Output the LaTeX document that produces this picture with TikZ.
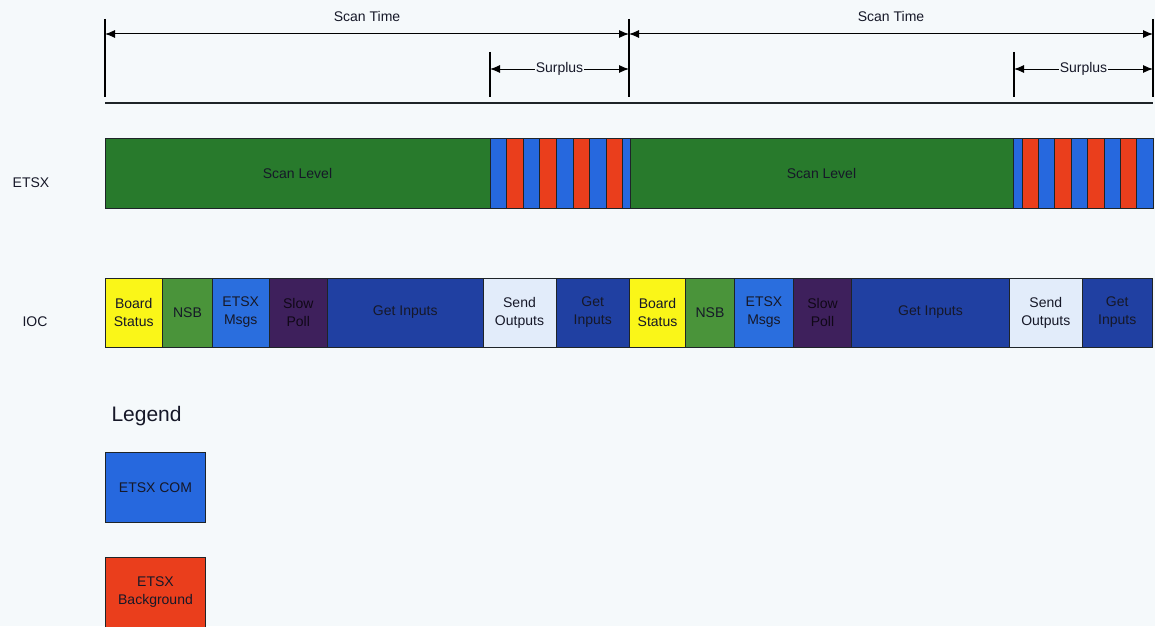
\documentclass[tikz,border=0pt]{standalone}
\usepackage{fontspec}
\setmainfont{Liberation Sans}
\usepackage{xcolor}
\usepackage{tikz}
\usetikzlibrary{positioning,arrows.meta,calc}
\definecolor{pagebg}{RGB}{245,249,251}
\definecolor{scangreen}{RGB}{40,122,44}
\definecolor{comblue}{RGB}{38,104,222}
\definecolor{bgred}{RGB}{234,62,28}
\definecolor{bsyellow}{RGB}{250,246,24}
\definecolor{nsbgreen}{RGB}{74,148,58}
\definecolor{msgblue}{RGB}{42,110,222}
\definecolor{pollpurple}{RGB}{62,32,92}
\definecolor{inblue}{RGB}{32,64,162}
\definecolor{outlight}{RGB}{226,236,250}
\definecolor{edgegray}{RGB}{30,36,40}
\definecolor{labeltext}{RGB}{22,24,40}
\tikzset{
    seg/.style={draw=edgegray, line width=1pt, inner sep=0pt, outer sep=0pt, align=center, minimum height=69, text=labeltext, font=\fontsize{14}{18}\selectfont},
    stripe/.style={draw=edgegray, line width=1pt},
    tick/.style={draw=black, line width=1.2pt},
    dimline/.style={{Latex[length=10pt,width=8pt]}-{Latex[length=10pt,width=8pt]}, line width=1pt, draw=black},
    dimlabel/.style={font=\fontsize{14}{16}\selectfont, text=labeltext, inner sep=1pt},
    rowlabel/.style={font=\fontsize{14}{16}\selectfont, text=labeltext},
    legendbox/.style={draw=edgegray, line width=1pt, align=center, minimum width=100, minimum height=70, inner sep=0pt, text=labeltext, font=\fontsize{14}{18}\selectfont}
}
\begin{document}
\begin{tikzpicture}[x=1pt,y=-1pt]
\fill[pagebg] (0,0) rectangle (1155,626);
\useasboundingbox (0,0) rectangle (1155,626);
% time scale
\coordinate (k0a) at (105,19);  \coordinate (k0b) at (105,97);
\coordinate (k1a) at (629,19);  \coordinate (k1b) at (629,97);
\coordinate (k2a) at (1153,19); \coordinate (k2b) at (1153,97);
\coordinate (s1a) at (490,52);  \coordinate (s1b) at (490,97);
\coordinate (s2a) at (1014,52); \coordinate (s2b) at (1014,97);
\draw[tick] (k0a) -- (k0b);
\draw[tick] (k1a) -- (k1b);
\draw[tick] (k2a) -- (k2b);
\draw[tick] (s1a) -- (s1b);
\draw[tick] (s2a) -- (s2b);
\coordinate (st1a) at (105,34);  \coordinate (st1b) at (629,34);
\coordinate (st2a) at (629,34);  \coordinate (st2b) at (1153,34);
\draw[dimline] (st1a) -- (st1b);
\draw[dimline] (st2a) -- (st2b);
\node[dimlabel] (scantime1) at (367,16) {Scan Time};
\node[dimlabel] (scantime2) at (891,16) {Scan Time};
\coordinate (sp1a) at (490,69);  \coordinate (sp1b) at (629,69);
\coordinate (sp2a) at (1014,69); \coordinate (sp2b) at (1153,69);
\draw[dimline] (sp1a) -- node[dimlabel, fill=pagebg] (surplus1) {Surplus} (sp1b);
\draw[dimline] (sp2a) -- node[dimlabel, fill=pagebg] (surplus2) {Surplus} (sp2b);
\coordinate (rulea) at (105,103); \coordinate (ruleb) at (1153,103);
\draw[line width=1.8pt, draw=edgegray] (rulea) -- (ruleb);
% ETSX row
\node[rowlabel] (etsx) at (31,183) {ETSX};
\node[seg, fill=scangreen, minimum width=385, minimum height=70, anchor=west] (scan1) at (105,173) {Scan Level};
\node[seg, fill=scangreen, minimum width=383, minimum height=70, anchor=west] (scan2) at (630,173) {Scan Level};
\foreach \i in {0,1,2,3} {
    \draw[stripe, fill=comblue] ({490+33.2*\i},138) rectangle +(16.6,70);
    \draw[stripe, fill=bgred] ({506.6+33.2*\i},138) rectangle +(16.6,70);
}
\draw[stripe, fill=comblue] (622.8,138) rectangle (630,208);
\draw[stripe, fill=comblue] (1013,138) rectangle (1022,208);
\foreach \i in {0,1,2,3} {
    \draw[stripe, fill=bgred] ({1022+32.8*\i},138) rectangle +(16.4,70);
    \draw[stripe, fill=comblue] ({1038.4+32.8*\i},138) rectangle +(16.4,70);
}
% IOC row
\node[rowlabel] (ioc) at (35,322) {IOC};
\node[seg, fill=bsyellow, minimum width=57.5, anchor=west] (bs1) at (105,312.5) {Board\\Status};
\node[seg, fill=nsbgreen, minimum width=50, right=0pt of bs1] (nsb1) {NSB};
\node[seg, fill=msgblue, minimum width=56.5, right=0pt of nsb1] (msg1) {ETSX\\Msgs};
\node[seg, fill=pollpurple, minimum width=58.5, right=0pt of msg1, text=black!75!pollpurple] (poll1) {Slow\\Poll};
\node[seg, fill=inblue, minimum width=155.5, right=0pt of poll1] (gin1) {Get Inputs};
\node[seg, fill=outlight, minimum width=73, right=0pt of gin1] (out1) {Send\\Outputs};
\node[seg, fill=inblue, minimum width=73.5, right=0pt of out1] (gin2) {Get\\Inputs};
\node[seg, fill=bsyellow, minimum width=56, right=0pt of gin2] (bs2) {Board\\Status};
\node[seg, fill=nsbgreen, minimum width=49, right=0pt of bs2] (nsb2) {NSB};
\node[seg, fill=msgblue, minimum width=59, right=0pt of nsb2] (msg2) {ETSX\\Msgs};
\node[seg, fill=pollpurple, minimum width=58, right=0pt of msg2, text=black!75!pollpurple] (poll2) {Slow\\Poll};
\node[seg, fill=inblue, minimum width=158, right=0pt of poll2] (gin3) {Get Inputs};
\node[seg, fill=outlight, minimum width=72.5, right=0pt of gin3] (out2) {Send\\Outputs};
\node[seg, fill=inblue, minimum width=70.5, right=0pt of out2] (gin4) {Get\\Inputs};
% legend
\node[font=\fontsize{21}{24}\selectfont, text=labeltext, anchor=west] (legend) at (108,416) {Legend};
\node[legendbox, fill=comblue, anchor=north west] (keycom) at (105,452) {ETSX COM};
\node[legendbox, fill=bgred, anchor=north west] (keybg) at (105,557) {ETSX\\Background};
\end{tikzpicture}
\end{document}
